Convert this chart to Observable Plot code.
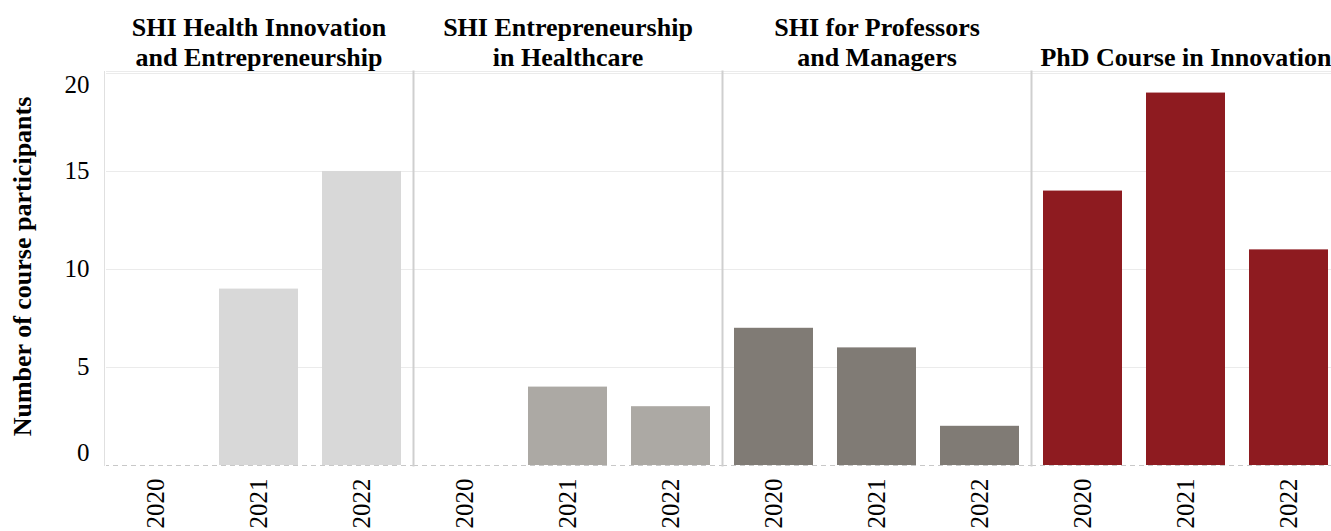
<!DOCTYPE html>
<html><head><meta charset="utf-8">
<script src="https://cdn.jsdelivr.net/npm/d3@7"></script>
<script src="https://cdn.jsdelivr.net/npm/@observablehq/plot@0.6"></script>
<style>html,body{margin:0;padding:0;background:#fff;overflow:hidden;width:1331px;height:531px}svg{max-width:none!important}</style>
</head><body><div id="chart"></div>
<script>
const courses = ["SHI Health Innovation\nand Entrepreneurship", "SHI Entrepreneurship\nin Healthcare", "SHI for Professors\nand Managers", "PhD Course in Innovation"];
const years = ["2020", "2021", "2022"];
const healthInnovation = [0, 9, 15];
const entrepreneurship = [0, 4, 3];
const professors = [7, 6, 2];
const phd = [14, 19, 11];
const colors = ["#d8d8d8", "#aca9a4", "#807b75", "#8e1b20"];
const yTicksMid = [5, 10, 15];
const yTickTop = [20];
const yTickBottom = [0];

const series = [healthInnovation, entrepreneurship, professors, phd];
const data = courses.flatMap((c, i) => years.map((y, j) => ({course: c, year: y, value: series[i][j]})));

const plot = Plot.plot({
  width: 1340, height: 531,
  marginLeft: 103, marginRight: 0, marginTop: 71, marginBottom: 66,
  style: {fontFamily: "'Liberation Serif', 'Times New Roman', serif", fontSize: "25px", color: "#000", background: "#fff", maxWidth: "none"},
  fx: {domain: courses, padding: 0, label: null},
  x: {domain: years, paddingInner: 0.235, paddingOuter: 0.1175, label: null},
  y: {domain: [0, 20.1], label: null},
  color: {domain: courses, range: colors},
  marks: [
    Plot.gridY([5, 10, 15, 20], {stroke: "#ebebeb", strokeOpacity: 1}),
    Plot.frame({anchor: "top", stroke: "#ebebeb"}),
    Plot.barY(data, {fx: "course", x: "year", y: "value", fill: "course"}),
    Plot.ruleY([0], {stroke: "#c8c8c8", strokeDasharray: "5,4"}),
    Plot.frame({anchor: "left", stroke: "#cfcfcf", strokeWidth: 2}),
    Plot.frame({anchor: "left", stroke: "#fff", strokeWidth: 3, facetAnchor: "left"}),
    Plot.frame({anchor: "left", stroke: "#e0e0e0", strokeWidth: 1, facetAnchor: "left"}),
    Plot.axisY(yTicksMid, {tickSize: 0, tickPadding: 15, label: null}),
    Plot.axisY(yTickTop, {tickSize: 0, tickPadding: 15, dy: 12, label: null}),
    Plot.axisY(yTickBottom, {tickSize: 0, tickPadding: 15, dy: -13, label: null}),
    Plot.text(["Number of course participants"], {frameAnchor: "left", textAnchor: "middle", rotate: -90, dx: -82, dy: -2, fontWeight: "bold", fontSize: 26, facetAnchor: "left"}),
    Plot.axisX({tickRotate: -90, tickSize: 0, tickPadding: 13, label: null}),
    Plot.axisFx({anchor: "top", tickSize: 0, tickPadding: 6, fontWeight: "bold", fontSize: 26, lineHeight: 1.15, label: null})
  ]
});
document.getElementById("chart").appendChild(plot);
</script></body></html>
